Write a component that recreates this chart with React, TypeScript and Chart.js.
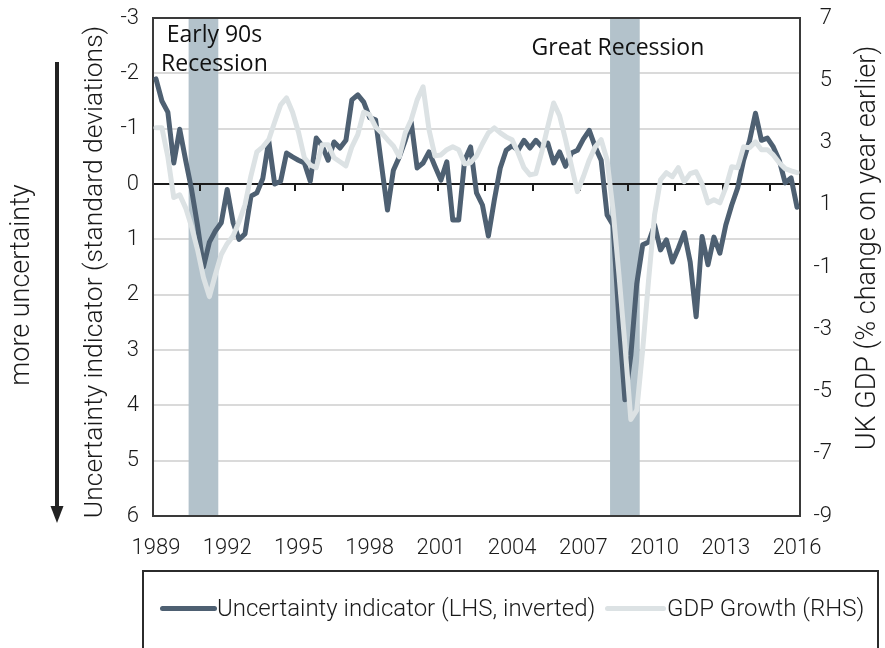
import React, { useEffect, useRef } from "react";
import { Chart, registerables } from "chart.js";

Chart.register(...registerables);

// ---- categories: quarterly, 1989Q1 .. 2016Q1 ----
const firstYear = 1989;
const lastYear = 2016;
const quarters: string[] = [];
for (let y = firstYear; y <= lastYear; y++) {
  for (let q = 1; q <= 4; q++) {
    if (y === lastYear && q > 1) break;
    quarters.push(`${y}Q${q}`);
  }
}

// ---- tick labels ----
const yearTickLabels = ["1989", "1992", "1995", "1998", "2001", "2004", "2007", "2010", "2013", "2016"];
const leftTickValues = [-3, -2, -1, 0, 1, 2, 3, 4, 5, 6];
const rightTickValues = [7, 5, 3, 1, -1, -3, -5, -7, -9];

// ---- series ----
const uncertainty = [
  -1.9, -1.5, -1.3, -0.38, -0.99, -0.43, 0.1, 0.75, 1.5, 1.05, 0.85, 0.7,
  0.1, 0.7, 1.0, 0.9, 0.22, 0.16, -0.1, -0.78, 0.0, -0.05, -0.56, -0.49,
  -0.43, -0.38, -0.05, -0.83, -0.69, -0.43, -0.76, -0.65, -0.79, -1.52, -1.61, -1.48,
  -1.2, -1.16, -0.34, 0.47, -0.25, -0.49, -0.79, -1.12, -0.29, -0.38, -0.58, -0.32,
  -0.07, -0.4, 0.65, 0.65, -0.43, -0.67, 0.16, 0.38, 0.94, 0.29, -0.29, -0.61,
  -0.69, -0.61, -0.79, -0.65, -0.79, -0.67, -0.74, -0.38, -0.58, -0.32, -0.56, -0.61,
  -0.81, -0.97, -0.67, -0.43, 0.56, 0.74, 2.45, 3.9, 3.1, 1.8, 1.1, 1.05,
  0.74, 1.19, 1.01, 1.41, 1.16, 0.88, 1.41, 2.4, 0.95, 1.46, 0.96, 1.25,
  0.74, 0.38, 0.07, -0.43, -0.78, -1.28, -0.79, -0.83, -0.67, -0.43, -0.02, -0.11,
  0.42,
];

const gdpGrowth = [
  3.47, 3.47, 2.54, 1.23, 1.32, 0.9, 0.29, -0.44, -1.34, -1.95, -1.25, -0.6,
  -0.25, 0.0, 0.46, 1.0, 1.93, 2.7, 2.86, 3.09, 3.66, 4.21, 4.43, 3.98,
  3.34, 2.51, 2.28, 2.19, 2.93, 2.93, 2.51, 2.38, 2.25, 2.86, 3.25, 3.98,
  3.89, 3.5, 3.31, 3.09, 2.89, 2.54, 3.31, 3.73, 4.37, 4.79, 3.41, 2.57,
  2.6, 2.77, 2.86, 2.77, 2.32, 2.35, 2.57, 2.96, 3.31, 3.47, 3.31, 3.18,
  3.09, 2.67, 2.19, 1.96, 2.0, 2.7, 3.5, 4.27, 3.86, 3.09, 2.25, 1.42,
  1.9, 2.44, 2.86, 3.09, 2.44, 0.84, -1.25, -3.49, -5.9, -5.6, -3.65, -1.4,
  0.68, 1.8, 2.03, 1.9, 2.19, 1.74, 2.0, 2.06, 1.67, 1.06, 1.16, 1.06,
  1.55, 2.22, 2.19, 2.86, 2.83, 3.02, 2.77, 2.77, 2.6, 2.35, 2.16, 2.09,
  2.03,
];

const seriesNames = ["Uncertainty indicator (LHS, inverted)", "GDP Growth (RHS)"];

// ---- recessions ----
const recessionStart = ["1990Q3", "2008Q2"];
const recessionEnd = ["1991Q3", "2009Q2"];
const recessionLabels = [["Early 90s", "Recession"], ["Great Recession"]];

// ---- text ----
const leftTitle = "Uncertainty indicator (standard deviations)";
const rightTitle = "UK GDP (% change on year earlier)";
const arrowText = "more uncertainty";

// ---- styles ----
const DARK = "#4e6072";
const LIGHT = "#dce2e4";
const BAND = "#b3c2cb";
const TEXT = "#1a1a1a";
const FONT = "Roboto, 'Liberation Sans', sans-serif";
const ANNOT_FONT = "'Open Sans', 'Noto Sans', sans-serif";

const decorPlugin = {
  id: "decor",
  beforeDatasetsDraw(chart: any) {
    const { ctx, chartArea: ca, scales } = chart;
    const x = scales.x;
    const y = scales.y;
    const w = x.getPixelForValue(1) - x.getPixelForValue(0);
    ctx.save();
    // recession bands
    ctx.fillStyle = BAND;
    recessionStart.forEach((s, k) => {
      const i0 = quarters.indexOf(s);
      const i1 = quarters.indexOf(recessionEnd[k]);
      const xl = x.getPixelForValue(i0) - w / 2;
      const xr = x.getPixelForValue(i1) + w / 2;
      ctx.fillRect(xl, ca.top, xr - xl, ca.bottom - ca.top);
    });
    // zero axis line with tick marks every 8 quarters
    const y0 = y.getPixelForValue(0);
    ctx.strokeStyle = "#1a1a1a";
    ctx.lineWidth = 2;
    ctx.beginPath();
    ctx.moveTo(ca.left, y0);
    ctx.lineTo(ca.right, y0);
    ctx.stroke();
    for (let i = 8; i < quarters.length; i += 8) {
      const xx = Math.round(x.getPixelForValue(i) - w / 2);
      ctx.beginPath();
      ctx.moveTo(xx, y0);
      ctx.lineTo(xx, y0 + 7);
      ctx.stroke();
    }
    // plot border
    ctx.strokeStyle = "#3a3a3a";
    ctx.lineWidth = 2;
    ctx.strokeRect(ca.left, ca.top, ca.right - ca.left, ca.bottom - ca.top);
    ctx.restore();
  },
  afterDatasetsDraw(chart: any) {
    const { ctx, chartArea: ca, scales } = chart;
    const x = scales.x;
    const w = x.getPixelForValue(1) - x.getPixelForValue(0);
    ctx.save();
    ctx.fillStyle = "#111";
    ctx.font = `23px ${ANNOT_FONT}`;
    ctx.textAlign = "center";
    ctx.textBaseline = "alphabetic";
    const b0l = x.getPixelForValue(quarters.indexOf(recessionStart[0])) - w / 2;
    const b0r = x.getPixelForValue(quarters.indexOf(recessionEnd[0])) + w / 2;
    const c0 = (b0l + b0r) / 2 + 11;
    ctx.fillText(recessionLabels[0][0], c0, ca.top + 24);
    ctx.fillText(recessionLabels[0][1], c0, ca.top + 53);
    const b1l = x.getPixelForValue(quarters.indexOf(recessionStart[1])) - w / 2;
    const b1r = x.getPixelForValue(quarters.indexOf(recessionEnd[1])) + w / 2;
    const c1 = (b1l + b1r) / 2 - 7;
    ctx.fillText(recessionLabels[1][0], c1, ca.top + 37);
    ctx.restore();
  },
  afterDraw(chart: any) {
    const { ctx } = chart;
    ctx.save();
    ctx.fillStyle = TEXT;
    ctx.textAlign = "center";
    ctx.textBaseline = "middle";
    // left axis title
    ctx.save();
    ctx.translate(95, 272);
    ctx.rotate(-Math.PI / 2);
    ctx.font = `300 26.5px ${FONT}`;
    ctx.fillText(leftTitle, 0, 0);
    ctx.restore();
    // right axis title
    ctx.save();
    ctx.translate(868, 248);
    ctx.rotate(-Math.PI / 2);
    ctx.font = `300 27px ${FONT}`;
    ctx.fillText(rightTitle, 0, 0);
    ctx.restore();
    // "more uncertainty"
    ctx.save();
    ctx.translate(22, 285);
    ctx.rotate(-Math.PI / 2);
    ctx.font = `300 27px ${FONT}`;
    ctx.fillText(arrowText, 0, 0);
    ctx.restore();
    // arrow
    ctx.strokeStyle = "#222";
    ctx.fillStyle = "#222";
    ctx.lineWidth = 4;
    ctx.beginPath();
    ctx.moveTo(57, 62);
    ctx.lineTo(57, 510);
    ctx.stroke();
    ctx.beginPath();
    ctx.moveTo(50.5, 506);
    ctx.lineTo(63.5, 506);
    ctx.lineTo(57, 523);
    ctx.closePath();
    ctx.fill();
    ctx.restore();
  },
};

export default function App() {
  const ref = useRef<HTMLCanvasElement>(null);
  useEffect(() => {
    if (!ref.current) return;
    const tickFont = { family: FONT, size: 22, weight: "300" as any };
    const chart = new Chart(ref.current, {
      type: "line",
      data: {
        labels: quarters,
        datasets: [
          {
            label: seriesNames[0],
            data: uncertainty,
            yAxisID: "y",
            borderColor: DARK,
            backgroundColor: DARK,
            borderWidth: 5,
            pointRadius: 0,
            tension: 0,
            borderJoinStyle: "round",
            borderCapStyle: "round",
            order: 1,
          },
          {
            label: seriesNames[1],
            data: gdpGrowth,
            yAxisID: "y2",
            borderColor: LIGHT,
            backgroundColor: LIGHT,
            borderWidth: 5,
            pointRadius: 0,
            tension: 0,
            borderJoinStyle: "round",
            borderCapStyle: "round",
            order: 0,
          },
        ],
      },
      options: {
        responsive: false,
        animation: false,
        events: [],
        layout: { padding: { top: 18, bottom: 82, left: 0, right: 53 } },
        plugins: { legend: { display: false }, tooltip: { enabled: false } },
        scales: {
          x: {
            type: "category",
            offset: true,
            grid: { display: false, drawTicks: false },
            border: { display: false },
            ticks: {
              autoSkip: false,
              maxRotation: 0,
              minRotation: 0,
              padding: 19,
              color: TEXT,
              font: tickFont,
              callback: (_v: any, i: number) => {
                const q = quarters[i];
                const yr = q.slice(0, 4);
                return q.endsWith("Q1") && yearTickLabels.includes(yr) ? yr : null;
              },
            },
            afterFit: (s: any) => {
              s.height = 50;
              s.paddingLeft = 0;
              s.paddingRight = 0;
            },
          },
          y: {
            position: "left",
            reverse: true,
            min: leftTickValues[0],
            max: leftTickValues[leftTickValues.length - 1],
            afterBuildTicks: (s: any) => {
              s.ticks = leftTickValues.map((v) => ({ value: v }));
            },
            ticks: { padding: 14, color: TEXT, font: tickFont },
            grid: {
              drawTicks: false,
              lineWidth: 2,
              color: (c: any) =>
                c.tick &&
                (c.tick.value === 0 ||
                  c.tick.value === leftTickValues[0] ||
                  c.tick.value === leftTickValues[leftTickValues.length - 1])
                  ? "rgba(0,0,0,0)"
                  : "#dadada",
            },
            border: { display: false },
            afterFit: (s: any) => {
              s.width = 153;
              s.paddingTop = 0;
              s.paddingBottom = 0;
            },
          },
          y2: {
            position: "right",
            min: rightTickValues[rightTickValues.length - 1],
            max: rightTickValues[0],
            afterBuildTicks: (s: any) => {
              s.ticks = rightTickValues.map((v) => ({ value: v }));
            },
            ticks: { padding: 8, color: TEXT, font: tickFont, crossAlign: "far" },
            grid: { display: false, drawTicks: false },
            border: { display: false },
            afterFit: (s: any) => {
              s.width = 32;
              s.paddingTop = 0;
              s.paddingBottom = 0;
            },
          },
        },
      },
      plugins: [decorPlugin],
    });
    return () => chart.destroy();
  }, []);

  const legendText: React.CSSProperties = {
    position: "absolute",
    top: 608,
    transform: "translateY(-50%)",
    font: `300 24px ${FONT}`,
    color: TEXT,
    whiteSpace: "nowrap",
    lineHeight: "28px",
  };

  return (
    <div
      style={{
        position: "fixed",
        left: 0,
        top: 0,
        width: 885,
        height: 648,
        background: "#fff",
        overflow: "hidden",
      }}
    >
      <canvas
        ref={ref}
        width={885}
        height={648}
        style={{ position: "absolute", left: 0, top: 0, width: 885, height: 648 }}
      />
      <div
        style={{
          position: "absolute",
          left: 142,
          top: 570,
          width: 737,
          height: 120,
          border: "2px solid #2b2b2b",
          boxSizing: "border-box",
        }}
      />
      <div
        style={{
          position: "absolute",
          left: 160,
          top: 605.5,
          width: 57,
          height: 5,
          borderRadius: 2.5,
          background: DARK,
        }}
      />
      <span style={{ ...legendText, left: 217 }}>{seriesNames[0]}</span>
      <div
        style={{
          position: "absolute",
          left: 605,
          top: 605.5,
          width: 61,
          height: 5,
          borderRadius: 2.5,
          background: LIGHT,
        }}
      />
      <span style={{ ...legendText, left: 667 }}>{seriesNames[1]}</span>
    </div>
  );
}
